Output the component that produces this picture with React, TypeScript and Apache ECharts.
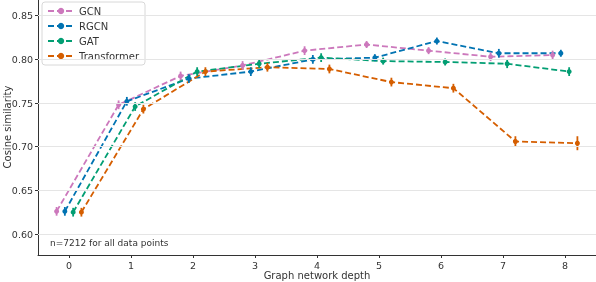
import React, { useEffect, useRef } from "react";
import * as echarts from "echarts";

const depths = [0, 1, 2, 3, 4, 5, 6, 7, 8];
const seriesNames = ["GCN", "RGCN", "GAT", "Transformer"];
const colors = ["#cc78bc", "#0173b2", "#029e73", "#d55e00"];
const gcn = [0.626, 0.748, 0.781, 0.793, 0.810, 0.817, 0.810, 0.803, 0.805];
const rgcn = [0.626, 0.752, 0.778, 0.786, 0.800, 0.802, 0.821, 0.807, 0.807];
const gat = [0.625, 0.746, 0.786, 0.795, 0.802, 0.798, 0.797, 0.795, 0.786];
const transformer = [0.625, 0.743, 0.786, 0.791, 0.789, 0.774, 0.767, 0.706, 0.704];
const gcnErr = [0.005, 0.005, 0.005, 0.005, 0.005, 0.004, 0.004, 0.005, 0.005];
const rgcnErr = [0.005, 0.005, 0.005, 0.005, 0.005, 0.004, 0.004, 0.005, 0.004];
const gatErr = [0.005, 0.005, 0.005, 0.005, 0.005, 0.004, 0.004, 0.005, 0.005];
const transformerErr = [0.005, 0.005, 0.005, 0.005, 0.005, 0.005, 0.005, 0.006, 0.008];
const yTicks = [0.6, 0.65, 0.7, 0.75, 0.8, 0.85];
const xTicks = [0, 1, 2, 3, 4, 5, 6, 7, 8];
const xTitle = "Graph network depth";
const yTitle = "Cosine similarity";
const annotation = "n=7212 for all data points";

const values = [gcn, rgcn, gat, transformer];
const errs = [gcnErr, rgcnErr, gatErr, transformerErr];
const dodge = [-0.2, -0.067, 0.067, 0.2];

export default function App() {
  const ref = useRef<HTMLDivElement>(null);
  useEffect(() => {
    if (!ref.current) return;
    const chart = echarts.init(ref.current, null, { renderer: "svg" });
    const font = "DejaVu Sans";
    const series: any[] = [];
    series.push({
      type: "line",
      data: [],
      silent: true,
      z: 0,
      markLine: {
        silent: true,
        symbol: "none",
        label: { show: false },
        lineStyle: { color: "#e5e5e5", width: 1, type: "solid" },
        data: yTicks.map((v) => ({ yAxis: v })),
      },
    });
    seriesNames.forEach((name, i) => {
      series.push({
        type: "line",
        name,
        data: depths.map((d, j) => [d + dodge[i], values[i][j]]),
        symbol: "circle",
        symbolSize: 5,
        itemStyle: { color: colors[i] },
        lineStyle: { color: colors[i], width: 1.8, type: [6, 3] },
        z: 3,
      });
      series.push({
        type: "custom",
        name: name + "_err",
        data: depths.map((d, j) => [d + dodge[i], values[i][j] - errs[i][j], values[i][j] + errs[i][j]]),
        renderItem: (params: any, api: any) => {
          const p1 = api.coord([api.value(0), api.value(1)]);
          const p2 = api.coord([api.value(0), api.value(2)]);
          return {
            type: "line",
            shape: { x1: p1[0], y1: p1[1], x2: p2[0], y2: p2[1] },
            style: { stroke: colors[i], lineWidth: 1.8 },
          };
        },
        z: 4,
        silent: true,
      });
    });
    chart.setOption({
      animation: false,
      textStyle: { fontFamily: font },
      grid: { left: 38, right: 0, top: 0, bottom: 27, containLabel: false, outerBoundsMode: "none" },
      xAxis: {
        type: "value",
        min: -0.5,
        max: 8.5,
        axisLine: { show: true, onZero: false, lineStyle: { color: "#333", width: 1 } },
        axisTick: { show: true, length: 3, customValues: xTicks, lineStyle: { color: "#333" } },
        axisLabel: { customValues: xTicks, fontSize: 9.5, color: "#333", margin: 5, fontFamily: font },
        splitLine: { show: false },
      },
      yAxis: {
        type: "value",
        min: 0.576,
        max: 0.868,
        axisLine: { show: true, onZero: false, lineStyle: { color: "#333", width: 1 } },
        axisTick: { show: true, length: 3, customValues: yTicks, lineStyle: { color: "#333" } },
        axisLabel: {
          customValues: yTicks,
          fontSize: 9.5,
          color: "#333",
          margin: 5,
          fontFamily: font,
          formatter: (v: number) => v.toFixed(2),
        },
        splitLine: { show: false },
      },
      legend: {
        data: seriesNames,
        orient: "vertical",
        left: 42,
        top: 2,
        itemWidth: 26,
        itemHeight: 8,
        itemGap: 5,
        padding: [4, 6, 4, 5],
        borderColor: "#d8d8d8",
        borderWidth: 1,
        borderRadius: 3,
        backgroundColor: "rgba(255,255,255,0.8)",
        textStyle: { fontSize: 10, color: "#333", fontFamily: font },
      },
      graphic: [
        {
          type: "text",
          left: 50,
          top: 238,
          style: { text: annotation, fontSize: 9, fill: "#333", fontFamily: font },
        },
        {
          type: "text",
          x: 7,
          y: 127,
          rotation: Math.PI / 2,
          style: { text: yTitle, fontSize: 10, fill: "#333", fontFamily: font, align: "center", verticalAlign: "middle" },
        },
        {
          type: "text",
          x: 317,
          y: 270,
          style: { text: xTitle, fontSize: 10, fill: "#333", fontFamily: font, align: "center", verticalAlign: "top" },
        },
      ],
      series,
    });
    return () => chart.dispose();
  }, []);
  return <div ref={ref} style={{ position: "fixed", left: 0, top: 0, width: 596, height: 282 }} />;
}
